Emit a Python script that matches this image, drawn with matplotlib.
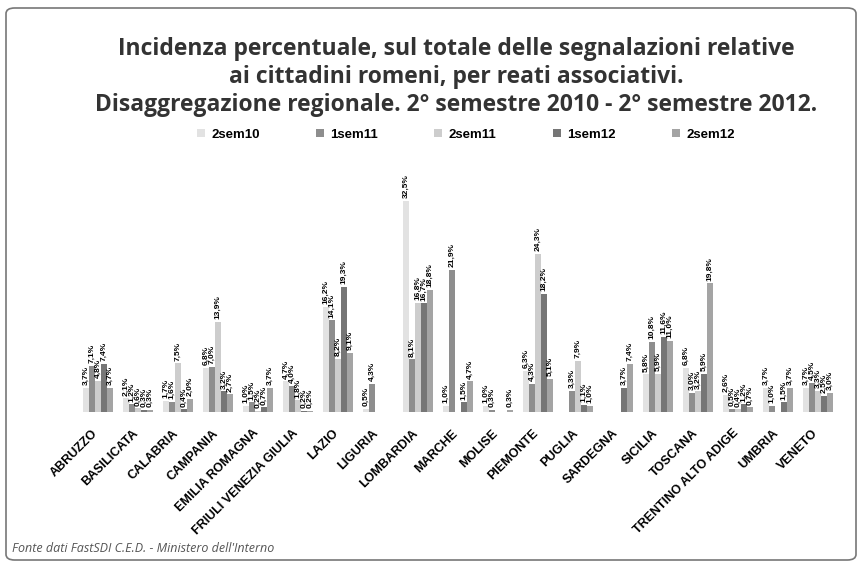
import matplotlib.pyplot as plt
import matplotlib.transforms as mtransforms
import numpy as np
from matplotlib.patches import FancyBboxPatch

regions = ['ABRUZZO', 'BASILICATA', 'CALABRIA', 'CAMPANIA', 'EMILIA ROMAGNA',
           'FRIULI VENEZIA GIULIA', 'LAZIO', 'LIGURIA', 'LOMBARDIA', 'MARCHE',
           'MOLISE', 'PIEMONTE', 'PUGLIA', 'SARDEGNA', 'SICILIA', 'TOSCANA',
           'TRENTINO ALTO ADIGE', 'UMBRIA', 'VENETO']
series_names = ['2sem10', '1sem11', '2sem11', '1sem12', '2sem12']

# percentuali per regione, una lista per semestre
sem2_10 = [3.7, 2.1, 1.7, 6.8, 1.0, 4.7, 16.2, 0.5, 32.5, 1.0, 1.0, 6.3, 0, 0, 5.8, 6.8, 2.6, 3.7, 3.7]
sem1_11 = [7.1, 1.2, 1.6, 7.0, 1.5, 4.0, 14.1, 4.3, 8.1, 21.9, 0.3, 4.3, 3.3, 0, 10.8, 3.0, 0.5, 1.0, 4.5]
sem2_11 = [4.8, 0.6, 7.5, 13.9, 0.2, 1.8, 8.2, 0, 16.8, 0, 0, 24.3, 7.9, 0, 5.9, 3.2, 0.4, 0, 3.3]
sem1_12 = [7.4, 0.3, 0.4, 3.2, 0.7, 0.2, 19.3, 0, 16.7, 1.5, 0, 18.2, 1.1, 3.7, 11.6, 5.9, 1.2, 1.5, 2.5]
sem2_12 = [3.7, 0.3, 2.0, 2.7, 3.7, 0.2, 9.1, 0, 18.8, 4.7, 0.3, 5.1, 1.0, 7.4, 11.0, 19.8, 0.7, 3.7, 3.0]

series = [sem2_10, sem1_11, sem2_11, sem1_12, sem2_12]
colors = ['#e2e2e2', '#8e8e8e', '#cdcdcd', '#767676', '#a4a4a4']

fig = plt.figure(figsize=(8.66, 5.66), dpi=100)
ax = fig.add_axes([75 / 866, 154 / 566, 775 / 866, 260 / 566])

x = np.arange(len(regions))
w = 0.15
for k, vals in enumerate(series):
    pos = x + (k - 2) * w
    ax.bar(pos, vals, width=w, color=colors[k], label=series_names[k])
    for px, v in zip(pos, vals):
        if v > 0:
            ax.text(px, v + 0.4, f'{v:.1f}%'.replace('.', ','), rotation=90,
                    ha='center', va='bottom', fontsize=6, fontweight='bold',
                    family='Liberation Sans')

ax.set_xlim(-0.575, 18.8)
ax.set_ylim(0, 40)
ax.set_yticks([])
ax.set_xticks(x)
ax.set_xticklabels(regions, rotation=45, ha='right', rotation_mode='anchor',
                   fontsize=9, fontweight='bold', family='Liberation Sans')
ax.tick_params(axis='x', length=0, pad=11)
shift = mtransforms.ScaledTranslation(-6 / 100, 0, fig.dpi_scale_trans)
for lbl in ax.get_xticklabels():
    lbl.set_transform(lbl.get_transform() + shift)
for s in ax.spines.values():
    s.set_visible(False)

fig.legend(loc='center', bbox_to_anchor=(0.538, 0.762), ncol=5, frameon=False,
           handlelength=0.6, handleheight=0.6, handletextpad=0.5,
           columnspacing=4.25, prop={'family': 'Liberation Sans', 'weight': 'bold', 'size': 9.5})

title = ('Incidenza percentuale, sul totale delle segnalazioni relative\n'
         'ai cittadini romeni, per reati associativi.\n'
         'Disaggregazione regionale. 2° semestre 2010 - 2° semestre 2012.')
fig.text(0.527, 1 - 77 / 566, title, ha='center', va='center', fontsize=16.5,
         fontweight='bold', color='#333333', family='Open Sans', linespacing=1.2)

fig.text(12 / 866, 1 - 549 / 566, "Fonte dati FastSDI C.E.D. - Ministero dell'Interno",
         ha='left', va='center', fontsize=9, style='italic', color='#555555',
         family='Open Sans')

frame = FancyBboxPatch((6 / 866, 6 / 566), 850 / 866, 552 / 566,
                       boxstyle='round,pad=0,rounding_size=0.01',
                       transform=fig.transFigure, fill=False,
                       edgecolor='#777777', linewidth=1.2)
fig.patches.append(frame)

fig.savefig('out.png', dpi=100)
